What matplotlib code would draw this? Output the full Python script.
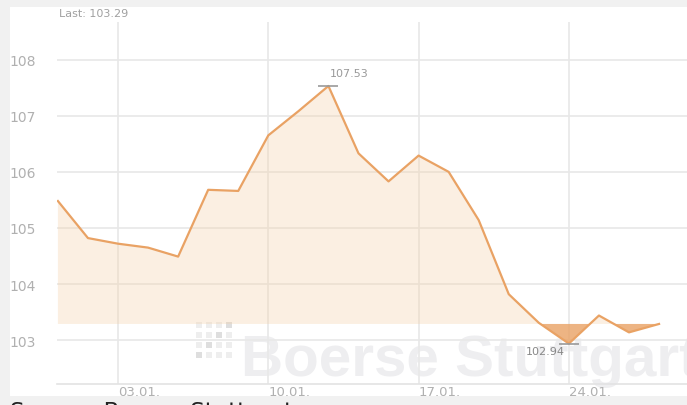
import matplotlib
matplotlib.use("Agg")
import matplotlib.pyplot as plt
from matplotlib.patches import Rectangle

# -----------------------------
# Data
# -----------------------------
dates = ["30.12.", "02.01.", "03.01.", "06.01.", "07.01.", "08.01.", "09.01.",
         "10.01.", "13.01.", "14.01.", "15.01.", "16.01.", "17.01.", "20.01.",
         "21.01.", "22.01.", "23.01.", "24.01.", "27.01.", "28.01.", "29.01."]
prices = [105.48, 104.82, 104.72, 104.65, 104.49, 105.68, 105.66,
          106.65, 107.08, 107.53, 106.33, 105.83, 106.29, 106.00,
          105.14, 103.82, 103.31, 102.94, 103.44, 103.14, 103.29]
tick_dates = ["03.01.", "10.01.", "17.01.", "24.01."]
y_ticks = [103, 104, 105, 106, 107, 108]
last_price = prices[-1]

W, H = 687, 406


def px(x, y):
    # pixel position (from top-left) -> figure fraction
    return x / W, 1 - y / H


fig = plt.figure(figsize=(W / 100, H / 100), dpi=100, facecolor="#f1f1f1")

# white panel
x0, y0 = px(10, 397)
fig.add_artist(Rectangle((x0, y0), 1 - x0, (397 - 8) / H, transform=fig.transFigure,
                         facecolor="white", edgecolor="none", zorder=0))

ax = fig.add_axes([57 / W, (H - 385) / H, (W - 57) / W, (385 - 23) / H])
ax.set_facecolor("none")

x = list(range(len(prices)))
line_c = "#e9a264"

# fills relative to the last price
ax.fill_between(x, prices, last_price, where=[p >= last_price for p in prices],
                interpolate=True, color="#f5d0a5", alpha=0.32, lw=0, zorder=2)
ax.fill_between(x, prices, last_price, where=[p <= last_price for p in prices],
                interpolate=True, color=line_c, alpha=0.8, lw=0, zorder=2)
ax.plot(x, prices, color=line_c, lw=1.6, zorder=4, solid_joinstyle="round")

# high / low markers
i_hi = prices.index(max(prices))
i_lo = prices.index(min(prices))
ax.plot([i_hi], [prices[i_hi]], marker="_", ms=14, mew=1.2, color="#999999", zorder=5)
ax.plot([i_lo], [prices[i_lo]], marker="_", ms=14, mew=1.2, color="#999999", zorder=5)
ax.annotate(f"{prices[i_hi]:.2f}", (i_hi, prices[i_hi]), xytext=(1, 6),
            textcoords="offset points", ha="left", va="bottom",
            fontsize=8, color="#999999", zorder=6)
ax.annotate(f"{prices[i_lo]:.2f}", (i_lo, prices[i_lo]), xytext=(-3, -2),
            textcoords="offset points", ha="right", va="top",
            fontsize=8, color="#888888", zorder=6)

# axes styling
ax.set_xlim(-0.03, 20.93)
ax.set_ylim(102.22, 108.67)
ax.set_yticks(y_ticks)
ax.set_yticklabels([str(v) for v in y_ticks])
ax.set_xticks([dates.index(d) for d in tick_dates])
ax.set_xticklabels(tick_dates, ha="left")
for s in ["top", "right", "left"]:
    ax.spines[s].set_visible(False)
ax.spines["bottom"].set_color("#e3e3e3")
ax.spines["bottom"].set_linewidth(1.2)
ax.tick_params(axis="y", length=0, pad=15, labelsize=10, labelcolor="#b0b0b0")
ax.tick_params(axis="x", length=0, pad=1, labelsize=9.5, labelcolor="#b0b0b0")
ax.grid(True, color="#e8e8e8", lw=1.2, zorder=1)
ax.set_axisbelow(True)

# watermark logo + text
for r in range(4):
    for c in range(4):
        dark = (r + c == 3)
        lx, ly = px(196 + c * 10, 329 + r * 10)
        ax.add_artist(Rectangle((lx, ly), 6 / W, 6 / H, transform=fig.transFigure,
                                facecolor="#dedede" if dark else "#eeeeee",
                                edgecolor="none", zorder=0.5))
wx, wy = px(241, 376)
ax.text(wx, wy, "Boerse Stuttgart", transform=fig.transFigure, fontsize=42,
        fontweight="bold", family="Liberation Sans", color="#eeeef0",
        ha="left", va="baseline", zorder=0.5)

lx, ly = px(59, 14)
fig.text(lx, ly, f"Last: {last_price:.2f}", fontsize=8, color="#a0a0a0",
         ha="left", va="center")

sx, sy = px(10, 401)
fig.text(sx, sy, "Source: Boerse Stuttgart", fontsize=16.5, color="#222222",
         ha="left", va="top")

fig.savefig("out.png", dpi=100, facecolor=fig.get_facecolor())
